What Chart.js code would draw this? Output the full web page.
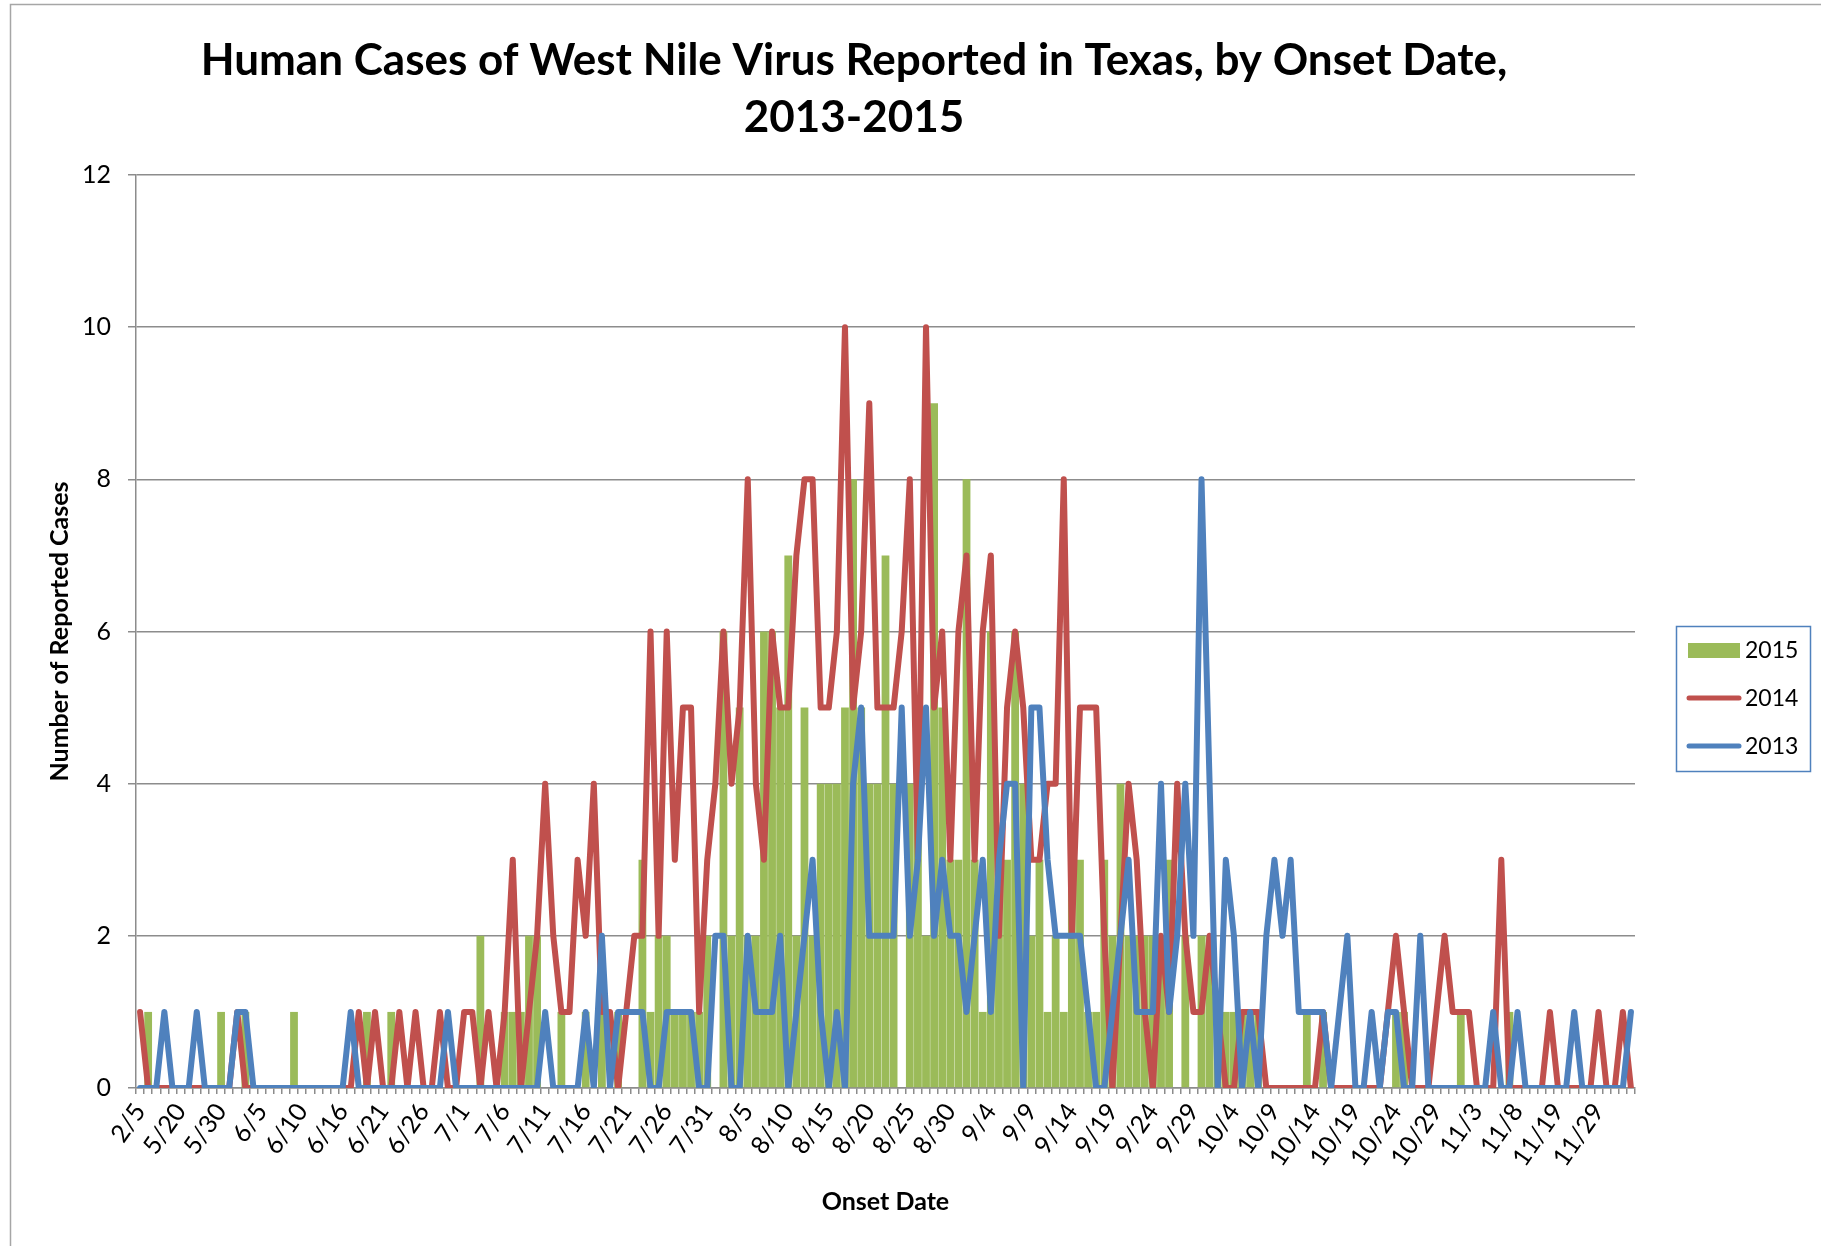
<!DOCTYPE html>
<html>
<head>
<meta charset="utf-8">
<title>West Nile Virus - Texas</title>
<script src="https://cdn.jsdelivr.net/npm/chart.js@4.4.1/dist/chart.umd.min.js"></script>
<style>
  html, body { margin:0; padding:0; background:#fff; }
  #wrap { width:1821px; height:1246px; }
</style>
</head>
<body>
<div id="wrap"><canvas id="c" width="1821" height="1246"></canvas></div>
<script>
const titleLines = ['Human Cases of West Nile Virus Reported in Texas, by Onset Date,', '2013-2015'];

// shown every 5th category on the x axis
const tickLabels = ['2/5','5/20','5/30','6/5','6/10','6/16','6/21','6/26','7/1','7/6',
  '7/11','7/16','7/21','7/26','7/31','8/5','8/10','8/15','8/20','8/25',
  '8/30','9/4','9/9','9/14','9/19','9/24','9/29','10/4','10/9','10/14',
  '10/19','10/24','10/29','11/3','11/8','11/19','11/29'];

// cases per onset date
const cases2015 = [
  0,1,0,0,0,0,0,0,0,0,  1,0,0,1,0,0,0,0,0,1,  0,0,0,0,0,0,0,0,1,0,  0,1,0,0,0,0,0,0,0,0,
  0,0,2,0,0,1,1,1,2,2,  0,0,1,0,0,1,0,1,0,1,  0,0,3,1,2,2,1,1,1,1,  2,0,6,2,5,2,2,6,6,5,
  7,2,5,2,4,4,4,5,8,5,  4,4,7,4,0,4,4,2,9,5,  3,3,8,3,1,6,3,3,6,4,  2,3,1,2,1,3,3,1,1,3,
  2,4,2,2,2,2,2,3,0,2,  0,2,2,1,1,1,1,1,1,0,  0,0,0,0,1,0,1,0,0,0,  0,0,0,0,0,1,1,0,0,0,
  0,0,0,1,0,0,0,0,0,1,  0,0,0,0,0,0,0,0,0,0,  0,0,0,0,0
];
const cases2014 = [
  1,0,0,0,0,0,0,0,0,0,  0,0,1,0,0,0,0,0,0,0,  0,0,0,0,0,0,0,1,0,1,  0,0,1,0,1,0,0,1,0,0,
  1,1,0,1,0,1,3,0,1,2,  4,2,1,1,3,2,4,1,1,0,  1,2,2,6,2,6,3,5,5,1,  3,4,6,4,5,8,4,3,6,5,
  5,7,8,8,5,5,6,10,5,6, 9,5,5,5,6,8,3,10,5,6, 3,6,7,3,6,7,2,5,6,5,  3,3,4,4,8,2,5,5,5,2,
  0,2,4,3,1,0,2,1,4,2,  1,1,2,1,0,0,1,1,1,0,  0,0,0,0,0,0,1,0,0,0,  0,0,0,0,1,2,1,0,0,0,
  1,2,1,1,1,0,0,0,3,0,  0,0,0,0,1,0,0,0,0,0,  1,0,0,1,0
];
const cases2013 = [
  0,0,0,1,0,0,0,1,0,0,  0,0,1,1,0,0,0,0,0,0,  0,0,0,0,0,0,1,0,0,0,  0,0,0,0,0,0,0,0,1,0,
  0,0,0,0,0,0,0,0,0,0,  1,0,0,0,0,1,0,2,0,1,  1,1,1,0,0,1,1,1,1,0,  0,2,2,0,0,2,1,1,1,2,
  0,1,2,3,1,0,1,0,4,5,  2,2,2,2,5,2,3,5,2,3,  2,2,1,2,3,1,3,4,4,0,  5,5,3,2,2,2,2,1,0,0,
  1,2,3,1,1,1,4,1,2,4,  2,8,4,0,3,2,0,1,0,2,  3,2,3,1,1,1,1,0,1,2,  0,0,1,0,1,1,0,0,2,0,
  0,0,0,0,0,0,0,1,0,0,  1,0,0,0,0,0,0,1,0,0,  0,0,0,0,1
];

const labels = cases2015.map((_, i) => i % 5 === 0 ? tickLabels[i / 5] : '');
const GRID = '#8c8c8c';

const frame = {
  id: 'frame',
  beforeDraw(chart){
    const {ctx, width, height} = chart;
    ctx.save();
    ctx.fillStyle = '#fff';
    ctx.fillRect(0, 0, width, height);
    ctx.strokeStyle = '#a6a6a6';
    ctx.lineWidth = 1.5;
    ctx.strokeRect(10.5, 4.5, width + 20, height + 20);
    ctx.restore();
  }
};

// title is drawn by hand: in the original it is not centred on the canvas
const headline = {
  id: 'headline',
  afterDraw(chart){
    const ctx = chart.ctx;
    ctx.save();
    ctx.fillStyle = '#000';
    ctx.font = 'bold 44px Lato';
    ctx.textAlign = 'center';
    ctx.textBaseline = 'middle';
    titleLines.forEach((t, k) => ctx.fillText(t, 854, 61 + k * 57));
    ctx.restore();
  }
};

const boxLegend = {
  id: 'boxLegend',
  afterDraw(chart){
    const ctx = chart.ctx;
    ctx.save();
    ctx.strokeStyle = '#4F81BD';
    ctx.lineWidth = 1.5;
    ctx.strokeRect(1676.5, 626.5, 134, 145);
    ctx.font = '23px Lato';
    ctx.textBaseline = 'middle';
    chart.data.datasets.forEach((ds, k) => {
      const y = 650 + k * 48;
      if (ds.type === 'line'){
        ctx.strokeStyle = ds.borderColor;
        ctx.lineWidth = 5;
        ctx.lineCap = 'round';
        ctx.beginPath(); ctx.moveTo(1689, y); ctx.lineTo(1739, y); ctx.stroke();
      } else {
        ctx.fillStyle = ds.backgroundColor;
        ctx.fillRect(1688, y - 7, 52, 15);
      }
      ctx.fillStyle = '#000';
      ctx.fillText(ds.label, 1745, y + 1);
    });
    ctx.restore();
  }
};

Chart.defaults.font.family = 'Lato, "Open Sans", sans-serif';
Chart.defaults.color = '#000';

new Chart(document.getElementById('c'), {
  type: 'bar',
  data: {
    labels,
    datasets: [
      { type:'bar', label:'2015', data:cases2015, backgroundColor:'#9BBB59',
        barPercentage:0.96, categoryPercentage:1, order:3 },
      { type:'line', label:'2014', data:cases2014, borderColor:'#C0504D', backgroundColor:'#C0504D',
        borderWidth:6, pointRadius:0, tension:0, borderCapStyle:'round', borderJoinStyle:'round', order:2 },
      { type:'line', label:'2013', data:cases2013, borderColor:'#4F81BD', backgroundColor:'#4F81BD',
        borderWidth:6, pointRadius:0, tension:0, borderCapStyle:'round', borderJoinStyle:'round', order:1 }
    ]
  },
  options: {
    responsive:false,
    animation:false,
    layout:{ padding:{ left:0, right:186, top:175, bottom:0 } },
    plugins:{
      legend:{ display:false },
      tooltip:{ enabled:false },
      title:{ display:false }
    },
    scales:{
      x:{
        offset:true,
        grid:{ display:true, drawOnChartArea:false, drawTicks:true, tickLength:6, color:GRID, lineWidth:1.5, offset:true },
        border:{ display:true, color:GRID, width:1.5 },
        ticks:{ autoSkip:false, maxRotation:55, minRotation:55, font:{ size:25 }, padding:4 },
        title:{ display:true, text:'Onset Date', font:{ size:25, weight:'bold' }, padding:{ bottom:29 } },
        afterFit(s){ s.height = 158; }
      },
      y:{
        min:0, max:12,
        grid:{ color:GRID, lineWidth:1.5, tickLength:8 },
        border:{ display:true, color:GRID, width:1.5 },
        ticks:{ stepSize:2, font:{ size:25 }, padding:17 },
        title:{ display:true, text:'Number of Reported Cases', font:{ size:25, weight:'bold' }, padding:{ top:45, bottom:0 } },
        afterFit(s){ s.width = 136; }
      }
    }
  },
  plugins:[frame, headline, boxLegend]
});
</script>
</body>
</html>
